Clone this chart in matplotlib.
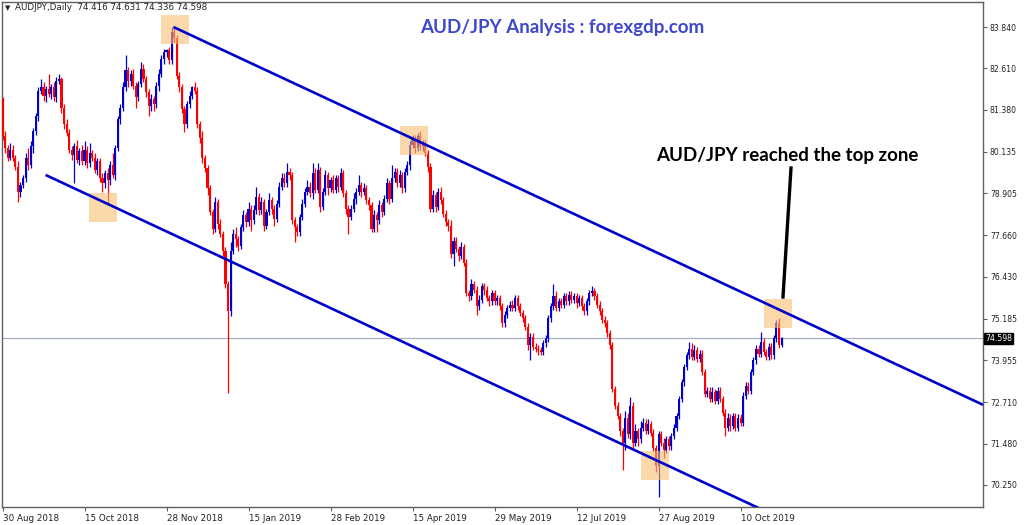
import numpy as np
import matplotlib
matplotlib.use('Agg')
from matplotlib import pyplot as plt
from matplotlib.patches import Rectangle

# daily closes, AUDJPY 30 Aug 2018 .. Oct 2019
first_open = 81.70
closes = [
    80.60, 80.25, 79.95, 80.20, 79.95, 79.70, 78.95, 79.15, 79.35, 79.95,
    79.75, 80.30, 80.75, 81.20, 81.95, 82.05, 81.80, 82.00, 81.85, 82.05,
    81.75, 82.25, 82.30, 81.45, 80.95, 80.70, 80.20, 80.05, 80.30, 79.90,
    80.15, 79.85, 80.20, 79.80, 80.10, 79.95, 79.60, 79.85, 79.35, 79.20,
    79.50, 79.30, 79.75, 79.45, 80.25, 81.10, 81.45, 82.05, 82.55, 82.25,
    82.45, 82.10, 81.75, 82.15, 82.60, 82.30, 81.90, 81.50, 81.70, 81.55,
    82.10, 82.45, 82.90, 83.10, 83.15, 82.85, 83.70, 83.50, 82.40, 82.05,
    81.40, 80.95, 81.55, 81.80, 82.05, 81.95, 80.95, 80.55, 79.95, 79.65,
    79.05, 78.35, 77.85, 78.65, 78.00, 77.70, 77.20, 76.20, 75.40, 77.20,
    77.70, 77.55, 77.35, 77.90, 78.25, 78.05, 78.45, 78.10, 78.40, 78.80,
    78.40, 78.65, 77.95, 78.35, 78.70, 78.45, 78.15, 78.60, 79.10, 79.35,
    79.20, 79.55, 79.45, 78.10, 77.90, 77.75, 78.20, 78.60, 78.95, 79.10,
    78.90, 79.50, 79.00, 79.60, 78.50, 78.95, 79.45, 79.05, 79.30, 79.00,
    79.35, 79.10, 79.50, 78.90, 78.45, 78.20, 78.45, 78.75, 78.95, 79.15,
    78.95, 79.05, 78.70, 78.55, 77.85, 78.25, 78.10, 78.55, 78.35, 78.75,
    79.20, 78.75, 79.35, 79.55, 79.20, 79.45, 79.05, 79.55, 79.75, 80.35,
    80.55, 80.25, 80.60, 80.30, 80.40, 80.10, 79.70, 78.45, 78.85, 78.50,
    78.95, 78.70, 78.30, 78.05, 77.95, 77.10, 77.50, 77.25, 77.05, 77.30,
    76.85, 75.95, 75.85, 76.20, 76.05, 75.55, 75.75, 76.15, 76.05, 75.80,
    75.70, 75.95, 75.70, 75.80, 75.55, 75.05, 75.30, 75.50, 75.60, 75.50,
    75.80, 75.55, 75.35, 75.20, 74.95, 74.40, 74.65, 74.35, 74.30, 74.25,
    74.20, 74.45, 74.60, 75.20, 75.55, 75.85, 75.50, 75.70, 75.60, 75.85,
    75.70, 75.90, 75.75, 75.85, 75.65, 75.80, 75.55, 75.40, 75.70, 75.95,
    76.00, 75.85, 75.60, 75.40, 75.15, 75.05, 74.75, 74.40, 73.10, 72.60,
    72.30, 71.85, 71.50, 72.25, 71.75, 72.60, 71.50, 71.85, 71.60, 71.95,
    72.10, 71.85, 72.05, 71.80, 71.35, 70.80, 71.75, 71.50, 71.30, 71.60,
    71.40, 71.70, 71.95, 72.30, 72.80, 73.30, 73.75, 74.10, 74.30, 74.05,
    74.25, 74.00, 74.15, 73.60, 72.95, 73.05, 72.80, 73.00, 72.75, 73.05,
    72.80, 72.40, 71.95, 72.25, 72.00, 72.30, 71.95, 72.25, 72.10, 72.90,
    73.20, 73.05, 73.60, 73.95, 74.30, 74.15, 74.50, 74.20, 74.05, 74.35,
    74.10, 74.60, 75.05, 74.416, 74.598,
]
# wick length above / below the body of each candle
wick_up = [
    0.05, 0.15, 0.10, 0.20, 0.15, 0.10, 0.15, 0.10, 0.10, 0.15,
    0.30, 0.15, 0.10, 0.10, 0.10, 0.25, 0.15, 0.10, 0.45, 0.10,
    0.15, 0.10, 0.15, 0.05, 0.10, 0.15, 0.10, 0.10, 0.10, 0.20,
    0.10, 0.20, 0.25, 0.10, 0.30, 0.10, 0.15, 0.10, 0.10, 0.15,
    0.10, 0.15, 0.10, 0.35, 0.10, 0.10, 0.10, 0.15, 0.45, 0.10,
    0.10, 0.15, 0.10, 0.10, 0.20, 0.15, 0.10, 0.10, 0.15, 0.10,
    0.10, 0.15, 0.10, 0.10, 0.05, 0.10, 0.14, 0.14, 0.10, 0.10,
    0.10, 0.10, 0.10, 0.15, 0.05, 0.15, 0.10, 0.10, 0.20, 0.10,
    0.10, 0.10, 0.10, 0.15, 0.10, 0.15, 0.10, 0.10, 0.10, 0.25,
    0.15, 0.20, 0.10, 0.10, 0.15, 0.10, 0.20, 0.10, 0.15, 0.30,
    0.10, 0.15, 0.10, 0.10, 0.20, 0.10, 0.10, 0.10, 0.15, 0.15,
    0.15, 0.25, 0.10, 0.10, 0.10, 0.10, 0.10, 0.15, 0.10, 0.20,
    0.15, 0.30, 0.15, 0.20, 0.10, 0.10, 0.15, 0.10, 0.10, 0.15,
    0.10, 0.10, 0.15, 0.10, 0.10, 0.10, 0.10, 0.15, 0.10, 0.30,
    0.10, 0.15, 0.10, 0.10, 0.10, 0.15, 0.10, 0.15, 0.10, 0.10,
    0.15, 0.10, 0.40, 0.10, 0.10, 0.15, 0.10, 0.10, 0.10, 0.10,
    0.10, 0.10, 0.10, 0.15, 0.10, 0.10, 0.10, 0.10, 0.15, 0.10,
    0.10, 0.15, 0.10, 0.10, 0.10, 0.15, 0.10, 0.10, 0.10, 0.15,
    0.10, 0.10, 0.10, 0.15, 0.10, 0.10, 0.15, 0.10, 0.10, 0.10,
    0.10, 0.10, 0.10, 0.10, 0.10, 0.10, 0.10, 0.10, 0.10, 0.15,
    0.10, 0.10, 0.10, 0.10, 0.10, 0.10, 0.10, 0.10, 0.10, 0.10,
    0.10, 0.10, 0.10, 0.10, 0.10, 0.35, 0.15, 0.10, 0.10, 0.10,
    0.10, 0.10, 0.10, 0.10, 0.10, 0.10, 0.10, 0.10, 0.10, 0.10,
    0.15, 0.10, 0.10, 0.10, 0.10, 0.10, 0.10, 0.10, 0.10, 0.10,
    0.10, 0.10, 0.10, 0.20, 0.15, 0.26, 0.10, 0.20, 0.10, 0.20,
    0.15, 0.10, 0.15, 0.10, 0.10, 0.10, 0.10, 0.10, 0.15, 0.10,
    0.10, 0.10, 0.10, 0.10, 0.10, 0.10, 0.10, 0.10, 0.20, 0.15,
    0.15, 0.10, 0.10, 0.10, 0.10, 0.10, 0.10, 0.15, 0.10, 0.10,
    0.10, 0.10, 0.10, 0.15, 0.10, 0.10, 0.10, 0.10, 0.10, 0.10,
    0.10, 0.10, 0.10, 0.10, 0.10, 0.10, 0.29, 0.10, 0.10, 0.10,
    0.10, 0.10, 0.10, 0.15, 0.033,
]
wick_dn = [
    0.10, 0.15, 0.10, 0.05, 0.10, 0.10, 0.30, 0.15, 0.10, 0.10,
    0.15, 0.10, 0.20, 0.10, 0.15, 0.10, 0.15, 0.20, 0.10, 0.15,
    0.10, 0.15, 0.10, 0.15, 0.15, 0.10, 0.10, 0.15, 0.85, 0.10,
    0.15, 0.10, 0.10, 0.15, 0.10, 0.10, 0.10, 0.15, 0.10, 0.25,
    0.15, 0.70, 0.15, 0.10, 0.15, 0.10, 0.15, 0.10, 0.10, 0.20,
    0.15, 0.10, 0.30, 0.10, 0.10, 0.10, 0.15, 0.30, 0.15, 0.20,
    0.10, 0.15, 0.10, 0.15, 0.15, 0.10, 0.10, 0.10, 0.10, 0.15,
    0.10, 0.23, 0.10, 0.10, 0.10, 0.10, 0.10, 0.15, 0.15, 0.10,
    0.20, 0.10, 0.15, 0.10, 0.15, 0.10, 0.15, 0.10, 2.42, 0.15,
    0.10, 0.25, 0.15, 0.10, 0.10, 0.15, 0.10, 0.30, 0.10, 0.10,
    0.15, 0.10, 0.15, 0.10, 0.10, 0.15, 0.20, 0.10, 0.10, 0.10,
    0.10, 0.10, 0.15, 0.10, 0.45, 0.10, 0.10, 0.10, 0.10, 0.10,
    0.10, 0.15, 0.10, 0.10, 0.15, 0.10, 0.10, 0.20, 0.10, 0.10,
    0.10, 0.15, 0.10, 0.10, 0.15, 0.50, 0.10, 0.10, 0.15, 0.10,
    0.15, 0.10, 0.10, 0.15, 0.10, 0.10, 0.35, 0.10, 0.15, 0.10,
    0.10, 0.15, 0.10, 0.10, 0.10, 0.10, 0.15, 0.10, 0.10, 0.15,
    0.10, 0.15, 0.10, 0.10, 0.15, 0.10, 0.15, 0.10, 0.10, 0.15,
    0.10, 0.10, 0.10, 0.10, 0.15, 0.10, 0.35, 0.10, 0.15, 0.10,
    0.10, 0.10, 0.15, 0.10, 0.10, 0.25, 0.10, 0.10, 0.15, 0.10,
    0.15, 0.10, 0.10, 0.10, 0.10, 0.10, 0.10, 0.10, 0.10, 0.10,
    0.10, 0.10, 0.10, 0.10, 0.10, 0.15, 0.44, 0.10, 0.10, 0.15,
    0.10, 0.10, 0.10, 0.10, 0.10, 0.10, 0.10, 0.10, 0.10, 0.10,
    0.10, 0.10, 0.10, 0.10, 0.15, 0.10, 0.10, 0.10, 0.10, 0.10,
    0.10, 0.10, 0.10, 0.10, 0.10, 0.10, 0.10, 0.10, 0.10, 0.10,
    0.10, 0.15, 0.80, 0.20, 0.10, 0.15, 0.20, 0.10, 0.20, 0.10,
    0.10, 0.10, 0.10, 0.10, 0.10, 0.15, 0.90, 0.10, 0.25, 0.10,
    0.10, 0.10, 0.10, 0.10, 0.10, 0.10, 0.10, 0.10, 0.10, 0.10,
    0.10, 0.10, 0.10, 0.10, 0.10, 0.10, 0.10, 0.10, 0.10, 0.10,
    0.10, 0.10, 0.25, 0.10, 0.15, 0.10, 0.10, 0.10, 0.10, 0.10,
    0.10, 0.10, 0.10, 0.10, 0.10, 0.10, 0.10, 0.10, 0.10, 0.10,
    0.10, 0.10, 0.10, 0.10, 0.08,
]
date_labels = ['30 Aug 2018', '15 Oct 2018', '28 Nov 2018', '15 Jan 2019', '28 Feb 2019',
               '15 Apr 2019', '29 May 2019', '12 Jul 2019', '27 Aug 2019', '10 Oct 2019']
label_every = 32
price_ticks = [83.840, 82.610, 81.380, 80.135, 78.905, 77.660, 76.430, 75.185,
               73.955, 72.710, 71.480, 70.250]
bid = 74.598
header = 'AUDJPY,Daily  74.416 74.631 74.336 74.598'

# trend channel anchors (bar index, price)
upper_line = [(66.7, 83.84), (382.6, 72.63)]
lower_line = [(16.8, 79.45), (300.0, 69.39)]
# highlighted touch zones (bar from, bar to, price low, price high)
zones = [(61.9, 72.8, 83.34, 84.20), (155.1, 166.0, 80.04, 80.90),
         (33.8, 44.7, 78.05, 78.91), (249.2, 260.1, 70.40, 71.26),
         (297.2, 308.1, 74.91, 75.77)]

c = np.array(closes)
o = np.concatenate([[first_open], c[:-1]])
hi = np.maximum(o, c) + np.array(wick_up)
lo = np.minimum(o, c) - np.array(wick_dn)
x = np.arange(len(c))
up = c >= o

BLUE = '#0000CD'
RED = '#FF0000'

fig = plt.figure(figsize=(10.24, 5.25), dpi=100)
ax = fig.add_axes([2 / 1024, 18 / 525, 981 / 1024, 505 / 525])
ax.set_xlim(-0.2, 382.6)
ax.set_ylim(69.597, 84.582)

for z in zones:
    ax.add_patch(Rectangle((z[0], z[2]), z[1] - z[0], z[3] - z[2],
                           facecolor='#F9BE72', alpha=0.6, edgecolor='none', zorder=4))

cols = np.where(up, BLUE, RED)
ax.vlines(x, lo, hi, colors=cols, linewidth=0.9, zorder=2)
body = np.maximum(np.abs(c - o), 0.03)
ax.bar(x, body, bottom=np.minimum(o, c), width=0.82, color=cols, linewidth=0, zorder=3)

ax.axhline(bid, color='#A3B0C6', linewidth=0.9, zorder=1)

ax.plot([p[0] for p in upper_line], [p[1] for p in upper_line], color=BLUE, linewidth=1.9,
        zorder=5, solid_capstyle='butt')
ax.plot([p[0] for p in lower_line], [p[1] for p in lower_line], color=BLUE, linewidth=1.9,
        zorder=5, solid_capstyle='butt')

# axes / ticks in terminal style
for s in ax.spines.values():
    s.set_color('#606060')
    s.set_linewidth(1)
ax.yaxis.tick_right()
ax.set_yticks(price_ticks)
ax.set_yticklabels(['%.3f' % p for p in price_ticks], fontsize=5.6, family='DejaVu Sans')
ax.tick_params(axis='y', length=3, width=0.8, color='#606060', pad=2, labelcolor='#222222')
ax.set_xticks(np.arange(len(date_labels)) * label_every)
ax.set_xticklabels(date_labels, fontsize=6.3, ha='left', family='DejaVu Sans')
ax.tick_params(axis='x', length=3, width=0.8, color='#606060', pad=2, labelcolor='#222222')

# current price tag
ax.text(1.002, (bid - 69.597) / (84.582 - 69.597), '%.3f' % bid, transform=ax.transAxes,
        fontsize=5.6, color='white', va='center', ha='left',
        bbox=dict(boxstyle='square,pad=0.15', facecolor='black', edgecolor='black'))

fig.text(5 / 1024, 1 - 8 / 525, '\u25bc', fontsize=5, va='center', ha='left', color='#222222')
fig.text(15 / 1024, 1 - 8 / 525, header, fontsize=6.3, va='center', ha='left', color='#222222')

fig.text(562 / 1024, 1 - 27 / 525, 'AUD/JPY Analysis : forexgdp.com', fontsize=13.5,
         fontweight='bold', family='Lato', color='#3F48CC', ha='center', va='center')
fig.text(787 / 1024, 1 - 156 / 525, 'AUD/JPY reached the top zone', fontsize=13.5,
         fontweight='bold', family='Lato', color='black', ha='center', va='center')
fig.add_artist(plt.Line2D([791 / 1024, 783 / 1024], [1 - 168 / 525, 1 - 297 / 525],
                          color='black', linewidth=2.4))

fig.savefig('out.png', dpi=100, facecolor='white')
